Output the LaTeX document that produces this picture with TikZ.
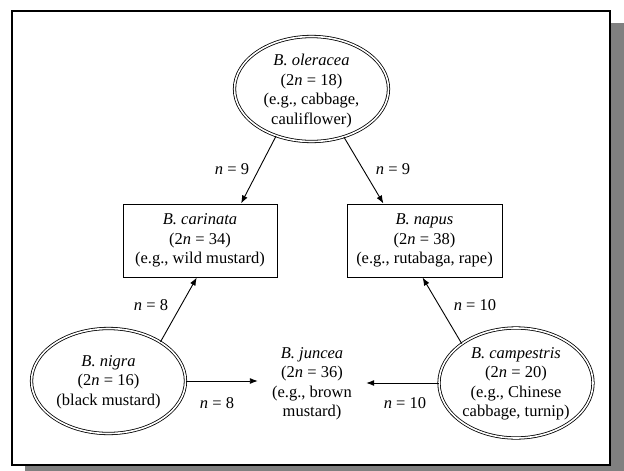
\documentclass[tikz,border=0pt]{standalone}
\usepackage{fontspec}
\setmainfont{Liberation Serif}
\usetikzlibrary{shapes.geometric,arrows.meta}
\begin{document}
\begin{tikzpicture}[x=1pt,y=-1pt,
  txt/.style={font=\fontsize{16.5}{19.5}\selectfont, align=center, inner sep=0pt},
  species/.style={ellipse, draw, double, double distance=1.6pt, line width=0.8pt, inner sep=0pt},
  hybrid/.style={rectangle, draw, line width=1pt, inner sep=0pt, minimum height=73pt},
  arr/.style={-{Latex[length=8pt,width=6pt]}, line width=0.9pt},
  lab/.style={font=\fontsize{16.5}{19.5}\selectfont, inner sep=0pt}]
\useasboundingbox (0,0) rectangle (624,471);
% frame with shadow
\fill[fill={rgb,255:red,128;green,128;blue,128}] (25,23) rectangle (624,478);
\draw[line width=2.5pt, fill=white] (12,11) rectangle (610,465);

% ellipses
\node[species, minimum width=154pt, minimum height=105pt] (ole) at (311.5,89) {};
\node[txt] (oletext) at (311.5,91) {\textit{B. oleracea}\\(2\textit{n} = 18)\\(e.g., cabbage,\\cauliflower)};

\node[species, minimum width=154pt, minimum height=105pt] (nig) at (108.5,381) {};
\node[txt] (nigtext) at (108.5,382) {\textit{B. nigra}\\(2\textit{n} = 16)\\(black mustard)};

\node[species, minimum width=154pt, minimum height=110pt] (cam) at (516,383) {};
\node[txt] (camtext) at (516,384) {\textit{B. campestris}\\(2\textit{n} = 20)\\(e.g., Chinese\\cabbage, turnip)};

% boxes
\node[hybrid, minimum width=154pt, txt] (car) at (200,240.5) {\textit{B. carinata}\\(2\textit{n} = 34)\\(e.g., wild mustard)};
\node[hybrid, minimum width=155pt, txt] (nap) at (424.5,240.5) {\textit{B. napus}\\(2\textit{n} = 38)\\(e.g., rutabaga, rape)};

% juncea
\node[txt, minimum width=108pt] (jun) at (312,384) {\textit{B. juncea}\\(2\textit{n} = 36)\\(e.g., brown\\mustard)};

% connectors
\draw[arr] (ole.233.7) -- (car.42.4);
\draw[arr] (ole.304.8) -- (nap.138.7);
\draw[arr] (nig.37.5) -- (car.265.3);
\draw[arr] (cam.144.7) -- (nap.267.6);
\draw[arr] (nig.east) -- (nig.east -| jun.west);
\draw[arr] (cam.west) -- (cam.west -| jun.east);

% labels
\node[lab] (l1) at (232,169) {\textit{n} = 9};
\node[lab] (l2) at (393,169) {\textit{n} = 9};
\node[lab] (l3) at (151,305) {\textit{n} = 8};
\node[lab] (l4) at (475,305) {\textit{n} = 10};
\node[lab] (l5) at (217,403) {\textit{n} = 8};
\node[lab] (l6) at (405,403) {\textit{n} = 10};
\end{tikzpicture}
\end{document}
